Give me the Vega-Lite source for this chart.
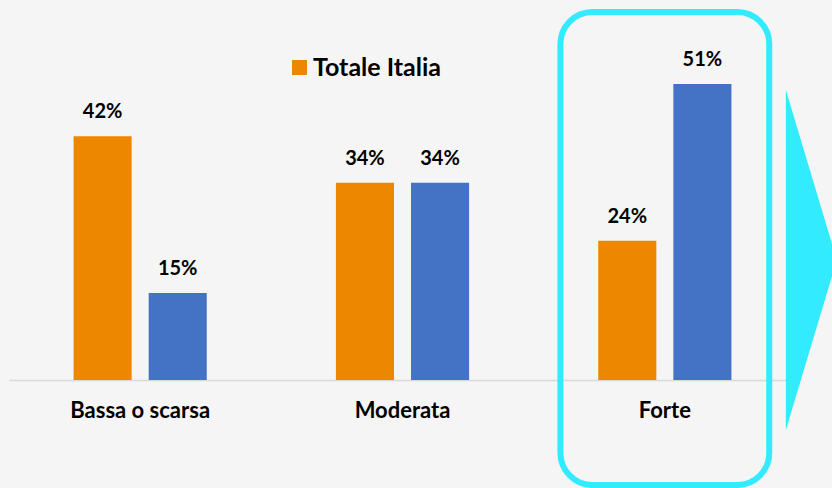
{
  "$schema": "https://vega.github.io/schema/vega-lite/v6.json",
  "width": 787,
  "height": 380,
  "autosize": {"type": "none"},
  "padding": {"left": 9, "top": 0, "right": 36, "bottom": 108},
  "background": "#F5F5F5",
  "config": {"view": {"stroke": null}, "font": "Lato"},
  "layer": [
    {
      "data": {
        "values": [
          {"cat": "Bassa o scarsa", "series": "Totale Italia", "value": 42, "label": "42%"},
          {"cat": "Bassa o scarsa", "series": "Campione", "value": 15, "label": "15%"},
          {"cat": "Moderata", "series": "Totale Italia", "value": 34, "label": "34%"},
          {"cat": "Moderata", "series": "Campione", "value": 34, "label": "34%"},
          {"cat": "Forte", "series": "Totale Italia", "value": 24, "label": "24%"},
          {"cat": "Forte", "series": "Campione", "value": 51, "label": "51%"}
        ]
      },
      "encoding": {
        "x": {
          "field": "cat",
          "type": "nominal",
          "sort": ["Bassa o scarsa", "Moderata", "Forte"],
          "scale": {"paddingInner": 0, "paddingOuter": 0},
          "axis": {
            "title": null,
            "labelAngle": 0,
            "ticks": false,
            "domainColor": "#D9D9D9",
            "domainWidth": 1.5,
            "labelFontSize": 22,
            "labelFontWeight": "bold",
            "labelColor": "#000000",
            "labelPadding": 20
          }
        },
        "xOffset": {
          "field": "series",
          "type": "nominal",
          "sort": ["Totale Italia", "Campione"],
          "scale": {"paddingInner": 0.2267, "paddingOuter": 0.86}
        },
        "y": {
          "field": "value",
          "type": "quantitative",
          "scale": {"domain": [0, 65.5], "nice": false},
          "axis": null
        }
      },
      "layer": [
        {
          "mark": {"type": "bar"},
          "encoding": {
            "color": {
              "field": "series",
              "type": "nominal",
              "scale": {"domain": ["Totale Italia", "Campione"], "range": ["#EE8700", "#4472C4"]},
              "legend": {
                "values": ["Totale Italia"],
                "title": null,
                "orient": "none",
                "legendX": 278,
                "legendY": 55,
                "symbolType": "square",
                "symbolSize": 225,
                "symbolStrokeWidth": 0,
                "labelFontSize": 25,
                "labelFontWeight": "bold",
                "labelColor": "#000000",
                "labelOffset": 1
              }
            }
          }
        },
        {
          "mark": {"type": "text", "baseline": "alphabetic", "dy": -18, "fontSize": 20, "fontWeight": "bold", "color": "#000000"},
          "encoding": {"text": {"field": "label"}}
        }
      ]
    },
    {
      "data": {"values": [{}]},
      "mark": {"type": "rect", "fill": null, "filled": false, "stroke": "#33EBFF", "strokeWidth": 6, "cornerRadius": 32, "width": {"band": 0.796}},
      "encoding": {
        "x": {"datum": "Forte", "type": "nominal"},
        "y": {"datum": 63.45, "type": "quantitative"},
        "y2": {"datum": -18.1}
      }
    },
    {
      "data": {"values": [{}]},
      "mark": {"type": "point", "filled": true, "opacity": 1, "color": "#33EBFF", "strokeWidth": 0, "size": 115600, "shape": "M 0.712 -1 L 1.012 0 L 0.712 1 Z"},
      "encoding": {
        "x": {"datum": "Forte", "type": "nominal"},
        "y": {"datum": 20.69, "type": "quantitative"}
      }
    }
  ]
}
